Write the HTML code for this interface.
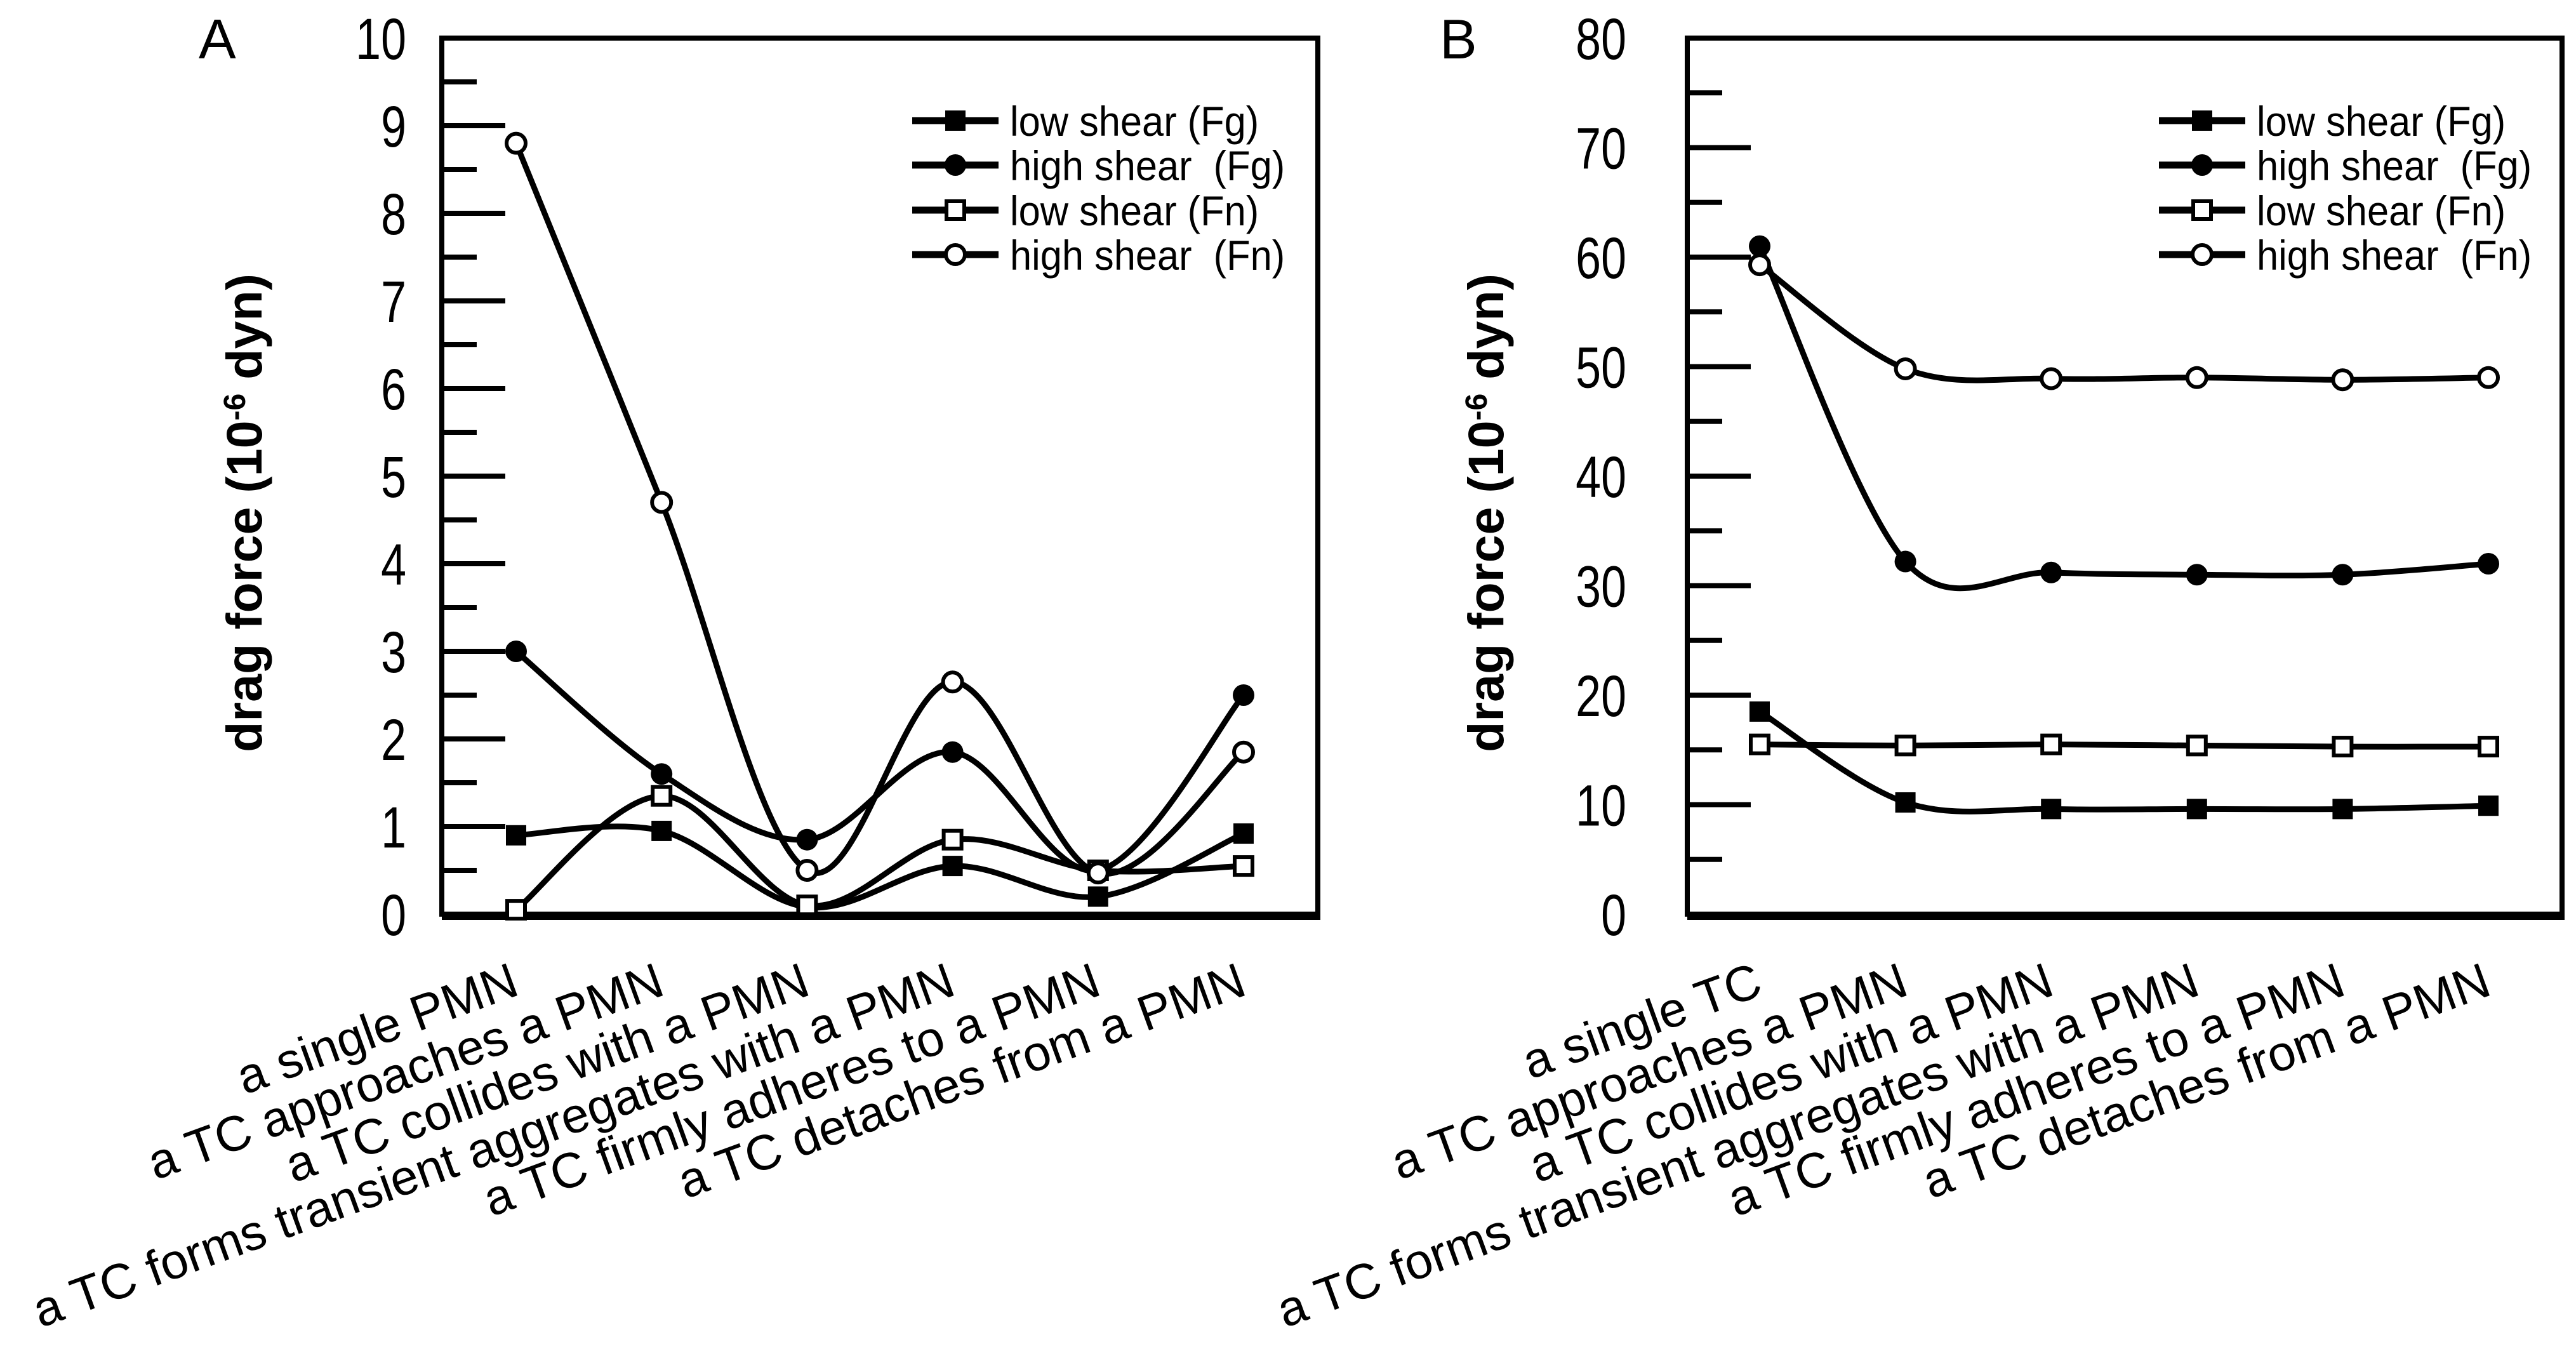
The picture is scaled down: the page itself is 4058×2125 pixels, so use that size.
<!DOCTYPE html>
<html><head><meta charset="utf-8">
<style>
html,body{margin:0;padding:0;background:#fff;}
svg{display:block;font-family:"Liberation Sans",Arial,sans-serif;}
</style></head>
<body>
<svg id="chart" width="4058" height="2125" viewBox="0 0 4058 2125" xmlns="http://www.w3.org/2000/svg"></svg>
<script>
const catsA = ["a single PMN","a TC approaches a PMN","a TC collides with a PMN","a TC forms transient aggregates with a PMN","a TC firmly adheres to a PMN","a TC detaches from a PMN"];
const catsB = ["a single TC","a TC approaches a PMN","a TC collides with a PMN","a TC forms transient aggregates with a PMN","a TC firmly adheres to a PMN","a TC detaches from a PMN"];
const seriesNames = ["low shear (Fg)","high shear  (Fg)","low shear (Fn)","high shear  (Fn)"];
const markerTypes = ["fsq","fci","osq","oci"];
const lowFgA  = [0.9, 0.95, 0.08, 0.55, 0.2, 0.92];
const highFgA = [3.0, 1.6, 0.85, 1.85, 0.5, 2.5];
const lowFnA  = [0.05, 1.35, 0.1, 0.85, 0.5, 0.55];
const highFnA = [8.8, 4.7, 0.5, 2.65, 0.47, 1.85];
const lowFgB  = [18.5, 10.2, 9.6, 9.6, 9.6, 9.9];
const highFgB = [61, 32.2, 31.2, 31.0, 31.0, 32.0];
const lowFnB  = [15.5, 15.4, 15.5, 15.4, 15.3, 15.3];
const highFnB = [59.3, 49.8, 48.9, 49.0, 48.8, 49.0];
const ticksA = [0,1,2,3,4,5,6,7,8,9,10];
const ticksB = [0,10,20,30,40,50,60,70,80];

const NS="http://www.w3.org/2000/svg";
const svg=document.getElementById('chart');
function mk(tag,attrs,parent){const e=document.createElementNS(NS,tag);for(const k in attrs)e.setAttribute(k,attrs[k]);(parent||svg).appendChild(e);return e;}

function panel(cfg){
  const g=mk('g',{});
  
  
  const L=cfg.left,R=cfg.right,T=60,B=1440;
  const ymax=cfg.ticks[cfg.ticks.length-1];
  const y=v=>B-(v/ymax)*(B-T);
  const step=(cfg.lastX-cfg.firstX)/(cfg.cats.length-1);
  const x=i=>cfg.firstX+i*step;
  const fr=mk('rect',{x:L,y:T,width:R-L,height:B-T,fill:'none',stroke:'#000','stroke-width':8},g);
  
  
  mk('line',{x1:L,y1:B+6,x2:R+4,y2:B+6,stroke:'#000','stroke-width':6},g);
  const half=(cfg.ticks[1]-cfg.ticks[0])/2;
  for(let k=0;k<cfg.ticks.length;k++){
    const v=cfg.ticks[k];
    if(k>0&&k<cfg.ticks.length-1){
      const t=mk('line',{x1:L,y1:y(v),x2:L+100,y2:y(v),stroke:'#000','stroke-width':8},g);
      
      
    }
    if(k<cfg.ticks.length-1){
      const m=mk('line',{x1:L,y1:y(v+half),x2:L+55,y2:y(v+half),stroke:'#000','stroke-width':8},g);
      
      
    }
    const tl=mk('text',{x:cfg.labelRight,y:y(v)+33,'text-anchor':'end','font-size':92,transform:`translate(${cfg.labelRight},${y(v)}) scale(0.78,1) translate(${-cfg.labelRight},${-y(v)})`},g);
    tl.textContent=v;
    
    
  }
  const yt=mk('text',{x:0,y:0,'text-anchor':'middle','font-size':79,'font-weight':'bold',transform:`translate(${cfg.titleX},${808}) rotate(-90)`},g);
  
  
  yt.innerHTML='drag force (10<tspan baseline-shift="super" font-size="48">-6</tspan> dyn)';
  const pl=mk('text',{x:cfg.letterX,y:92,'font-size':88},g);
  pl.textContent=cfg.letter;
  
  
  cfg.cats.forEach((c,i)=>{
    const t=mk('text',{x:0,y:0,'text-anchor':'end','font-size':78,transform:`translate(${x(i)+8},${1566}) rotate(-20)`},g);
    t.textContent=c;
    
    
  });
  cfg.series.forEach((vals,s)=>{
    const pts=vals.map((v,i)=>[x(i),y(v)]);
    let d=`M${pts[0][0]},${pts[0][1]}`;
    for(let i=0;i<pts.length-1;i++){
      const p0=pts[Math.max(0,i-1)],p1=pts[i],p2=pts[i+1],p3=pts[Math.min(pts.length-1,i+2)];
      const c1=[p1[0]+(p2[0]-p0[0])/6,p1[1]+(p2[1]-p0[1])/6];
      const c2=[p2[0]-(p3[0]-p1[0])/6,p2[1]-(p3[1]-p1[1])/6];
      d+=` C${c1[0]},${c1[1]} ${c2[0]},${c2[1]} ${p2[0]},${p2[1]}`;
    }
    const ln=mk('path',{d:d,fill:'none',stroke:'#000','stroke-width':9},g);
    
    
    pts.forEach(p=>{
      const m=marker(markerTypes[s],p[0],p[1],g);
      
      
    });
  });
  const lg=mk('g',{},g);
  
  
  const rows=[214,284,355,425];
  seriesNames.forEach((n,s)=>{
    const e=mk('g',{},lg);
    
    
    mk('line',{x1:cfg.legX,y1:rows[s]-24,x2:cfg.legX+136,y2:rows[s]-24,stroke:'#000','stroke-width':11},e);
    marker(markerTypes[s],cfg.legX+68,rows[s]-24,e);
    const t=mk('text',{x:cfg.legX+154,y:rows[s],'font-size':66,style:'white-space:pre',transform:`translate(${cfg.legX+154},0) scale(0.93,1) translate(${-(cfg.legX+154)},0)`},e);
    t.textContent=n;
  });
}
function marker(type,cx,cy,parent){
  if(type==='fsq')return mk('rect',{x:cx-16,y:cy-16,width:32,height:32,fill:'#000'},parent);
  if(type==='osq')return mk('rect',{x:cx-14,y:cy-14,width:28,height:28,fill:'#fff',stroke:'#000','stroke-width':6},parent);
  if(type==='fci')return mk('circle',{cx:cx,cy:cy,r:17,fill:'#000'},parent);
  return mk('circle',{cx:cx,cy:cy,r:15,fill:'#fff',stroke:'#000','stroke-width':6},parent);
}
panel({name:'panel-a',letter:'A',letterX:313,left:696,right:2076,firstX:813,lastX:1959,ticks:ticksA,cats:catsA,labelRight:640,titleX:412,legX:1437,series:[lowFgA,highFgA,lowFnA,highFnA]});
panel({name:'panel-b',letter:'B',letterX:2268,left:2658,right:4036,firstX:2772,lastX:3920,ticks:ticksB,cats:catsB,labelRight:2562,titleX:2368,legX:3401,series:[lowFgB,highFgB,lowFnB,highFnB]});
</script>
</body></html>
